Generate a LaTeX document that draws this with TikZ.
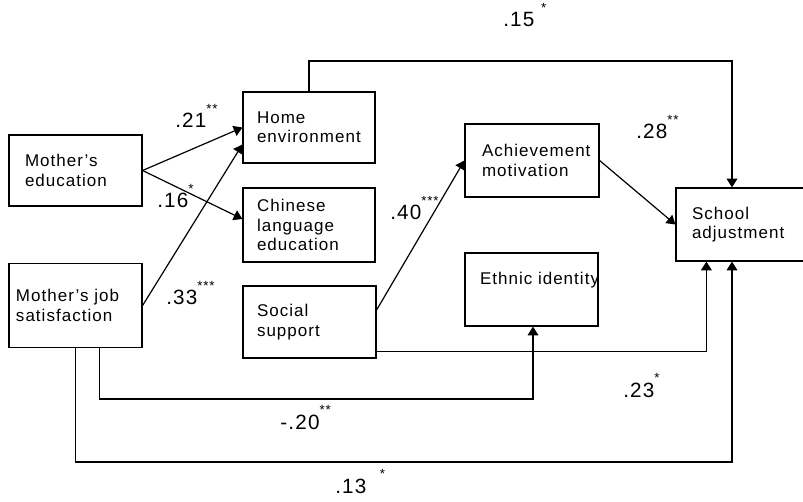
\documentclass[tikz,border=0pt]{standalone}
\usepackage{fontspec}
\setmainfont{Liberation Sans}[LetterSpace=6]
\usetikzlibrary{calc,arrows.meta}
\newcommand{\pstars}[1]{\raisebox{11pt}{\fontsize{10}{10}\selectfont #1}}

\begin{document}
\begin{tikzpicture}
      [
        x=0.75pt, y=-0.75pt,
        box/.style={draw, line width=0.9pt, align=left, inner sep=0pt,
          font=\fontsize{12.75}{14.5}\selectfont},
        arrowstyle/.style={draw, line width=0.9pt, -{Triangle[length=6.5pt,width=8pt]}},
        coef/.style={anchor=base west, inner sep=0pt,
          font=\fontsize{15.5}{18}\selectfont}
      ]

      \useasboundingbox (0,0) rectangle (803,502);

      \node[box, minimum width=99.75pt, minimum height=53.25pt, text width=75.75pt] (medu) at (75.5,170.5) {Mother's\\education};
      \node[box, minimum width=99.75pt, minimum height=63pt, text width=89.25pt] (mjob) at (75.5,305.5) {Mother's job\\satisfaction};

      \node[box, minimum width=99pt, minimum height=53.25pt, text width=78pt] (home) at (309,127.5) {Home\\environment};
      \node[box, minimum width=99pt, minimum height=55.5pt, text width=78pt] (chin) at (309,225) {Chinese\\language\\education};
      \node[box, minimum width=99.75pt, minimum height=54pt, text width=78.75pt] (soc) at (309.5,322) {Social\\support};

      \node[box, minimum width=100.5pt, minimum height=54.75pt, text width=75pt] (ach) at (532,160.5) {Achievement\\motivation};
      \node[box, minimum width=99.75pt, minimum height=54.75pt, text width=77.25pt, text depth=17pt] (eth) at (531.5,289.5) {\mbox{Ethnic identity}};

      \node[box, minimum width=97.5pt, minimum height=54.75pt, text width=73.5pt] (sch) at (741,224.5) {School\\adjustment};

      \draw[arrowstyle] (medu.east) -- (home.west);
      \draw[arrowstyle] (medu.east) -- ($(chin.west)+(0,-6)$);
      \draw[arrowstyle] (mjob.east) -- ($(home.west)+(0,17)$);
      \draw[arrowstyle] ($(soc.east)+(0,-12)$) -- (ach.west);
      \draw[arrowstyle] (ach.east) -- (sch.west);

      \coordinate (toprun) at (732,61);
      \draw[arrowstyle] (home.north) |- (toprun) -- (toprun |- sch.north);
      \draw[arrowstyle] ($(soc.south east)+(0,-7)$) -| ($(sch.south west)+(31,0)$);
      \coordinate (lowrun) at (533,399);
      \draw[arrowstyle] ($(mjob.south)+(24,0)$) |- (lowrun) -- (lowrun |- eth.south);
      \coordinate (bottomrun) at (732,462);
      \draw[arrowstyle] (mjob.south) |- (bottomrun) -- (bottomrun |- sch.south);

      \node[coef] (c21) at (175,128) {.21\pstars{**}};
      \node[coef] (c16) at (157,208) {.16\pstars{*}};
      \node[coef] (c33) at (166,305) {.33\pstars{***}};
      \node[coef] (c40) at (390,220) {.40\pstars{***}};
      \node[coef] (c15) at (503,27) {.15\hspace{5pt}\pstars{*}};
      \node[coef] (c28) at (636,139) {.28\pstars{**}};
      \node[coef] (c23) at (623,397) {.23\pstars{*}};
      \node[coef] (c20) at (280,429) {-.20\pstars{**}};
      \node[coef] (c13) at (335,493) {.13\hspace{10pt}\pstars{*}};

    \end{tikzpicture}
\end{document}
